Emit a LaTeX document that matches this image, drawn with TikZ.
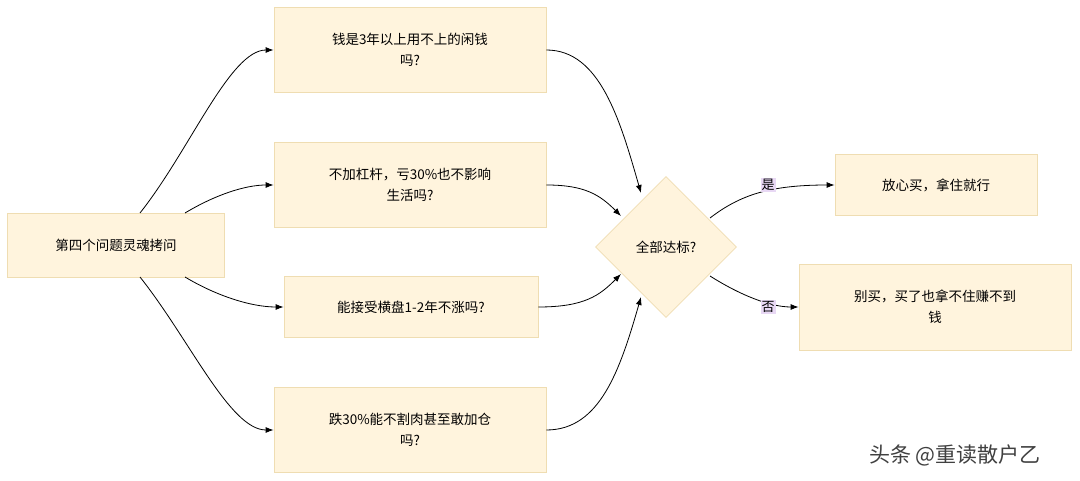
\documentclass[tikz,border=0pt]{standalone}
\usepackage{fontspec}
\setmainfont{Liberation Serif}
\newfontfamily\cjk{Noto Sans CJK SC}
\usetikzlibrary{shapes.geometric,arrows.meta}
\definecolor{boxfill}{HTML}{FFF4DD}
\definecolor{boxline}{HTML}{EFDDB2}
\definecolor{lblbg}{HTML}{E8D8F4}
\tikzset{
  box/.style={draw=boxline,fill=boxfill,line width=0.8pt,align=center,font=\cjk\fontsize{13.5}{21}\selectfont,inner sep=0},
  conn/.style={draw=black,line width=0.8pt,-{Latex[length=8pt,width=6pt]}},
  lbl/.style={fill=lblbg,font=\cjk\fontsize{13}{15}\selectfont,inner sep=1pt}
}
\begin{document}
\begin{tikzpicture}[x=1pt,y=-1pt]
\useasboundingbox (0,0) rectangle (1080,481);
\fill[white] (0,0) rectangle (1080,481);
\node[box,minimum width=217,minimum height=64] (L) at (116,245) {第四个问题灵魂拷问};
\node[box,minimum width=272,minimum height=85] (Q1) at (410,50) {钱是3年以上用不上的闲钱\\吗?};
\node[box,minimum width=272,minimum height=85] (Q2) at (410,185) {不加杠杆，亏30\%也不影响\\生活吗?};
\node[box,minimum width=254,minimum height=61] (Q3) at (411,307) {能接受横盘1-2年不涨吗?};
\node[box,minimum width=272,minimum height=85] (Q4) at (410,430) {跌30\%能不割肉甚至敢加仓\\吗?};
\node[box,diamond,minimum width=141,minimum height=141,aspect=1] (D) at (666,247) {全部达标?};
\node[box,minimum width=202,minimum height=61] (Y) at (936,185) {放心买，拿住就行};
\node[box,minimum width=272,minimum height=86] (N) at (935,307) {别买，买了也拿不住赚不到\\钱};
\coordinate (l1) at (140,213);
\coordinate (l2) at (185,213);
\coordinate (l3) at (185,277);
\coordinate (l4) at (140,277);
\draw[conn] (l1) .. controls (190,150) and (230,50) .. (Q1.west);
\draw[conn] (l2) .. controls (215,195) and (245,185) .. (Q2.west);
\draw[conn] (l3) .. controls (215,295) and (250,307) .. (Q3.west);
\draw[conn] (l4) .. controls (190,340) and (230,430) .. (Q4.west);
\coordinate (d1) at (641,193);
\coordinate (d2) at (621,216);
\coordinate (d3) at (621,274);
\coordinate (d4) at (641,297);
\draw[conn] (Q1.east) .. controls (600,50) and (620,120) .. (d1);
\draw[conn] (Q2.east) .. controls (585,185) and (600,195) .. (d2);
\draw[conn] (Q3.east) .. controls (585,307) and (600,295) .. (d3);
\draw[conn] (Q4.east) .. controls (600,430) and (620,370) .. (d4);
\coordinate (dy) at (710,218);
\coordinate (dn) at (710,276);
\draw[conn] (dy) .. controls (740,195) and (770,185) .. (Y.west);
\draw[conn] (dn) .. controls (740,295) and (770,307) .. (N.west);
\node[lbl] (ly) at (768,185) {是};
\node[lbl] (ln) at (768,307) {否};
\node[font=\cjk\fontsize{21}{24}\selectfont,text=black!75] (wm) at (955,455) {头条 @重读散户乙};
\end{tikzpicture}
\end{document}
